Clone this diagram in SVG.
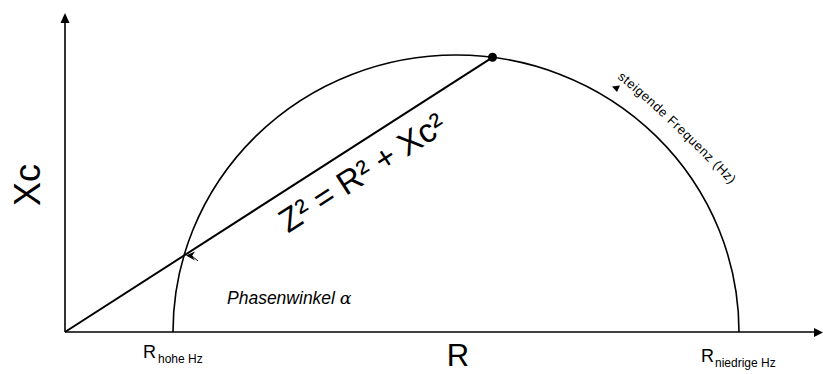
<svg xmlns="http://www.w3.org/2000/svg" width="823" height="374" viewBox="0 0 823 374">
<style>
  .ax { stroke: #000; stroke-width: 1.6; fill: none; }
  .arc { stroke: #000; stroke-width: 1.6; fill: none; }
  .vec { stroke: #000; stroke-width: 2; fill: none; }
  .t { font-family: "Liberation Sans", Arial, sans-serif; fill: #000; }
</style>
<defs>
  <path id="freqPath" d="M617,78 Q658,110 736,190"/>
</defs>
<rect width="823" height="374" fill="#fff"/>
<g id="connectors">
  <line class="ax" x1="65" y1="332" x2="65" y2="22"/>
  <polygon points="65,13 60.5,23 69.5,23" fill="#000"/>
  <line class="ax" x1="65" y1="332" x2="815" y2="332"/>
  <polygon points="823,332.5 814,328 814,337" fill="#000"/>
  <path class="arc" d="M173,332 A283,277 0 0 1 739,332"/>
  <line class="vec" x1="65" y1="332" x2="492.5" y2="57.3"/>
  <circle cx="492.5" cy="57.3" r="4.5" fill="#000"/>
  <polygon points="612,86.5 620,85.5 617,92" fill="#000"/>
  <path d="M186,255.5 L195,251.5 L192,256 L195,260.5 Z" fill="#000"/>
  <line x1="192" y1="256" x2="198" y2="261" stroke="#000" stroke-width="1"/>
</g>
<g id="label-xc">
  <text class="t" transform="translate(40,185) rotate(-90)" text-anchor="middle" font-size="36">Xc</text>
</g>
<g id="label-r">
  <text class="t" x="458" y="366" text-anchor="middle" font-size="31">R</text>
</g>
<g id="label-r-hohe">
  <text class="t" x="143" y="358" font-size="18">R<tspan x="158" y="363" font-size="12">hohe Hz</tspan></text>
</g>
<g id="label-r-niedrige">
  <text class="t" x="701" y="362" font-size="18">R<tspan x="715" y="367" font-size="12">niedrige Hz</tspan></text>
</g>
<g id="label-phase">
  <text class="t" x="227" y="304" font-size="17.5" font-style="italic">Phasenwinkel <tspan font-family="'DejaVu Serif', serif">α</tspan></text>
</g>
<g id="label-equation">
  <text class="t" transform="translate(288,233.5) rotate(-32.7)" font-size="33">Z² = R² + Xc²</text>
</g>
<g id="label-freq">
  <text class="t" font-size="13"><textPath href="#freqPath" textLength="156" lengthAdjust="spacing">steigende Frequenz (Hz)</textPath></text>
</g>
</svg>
